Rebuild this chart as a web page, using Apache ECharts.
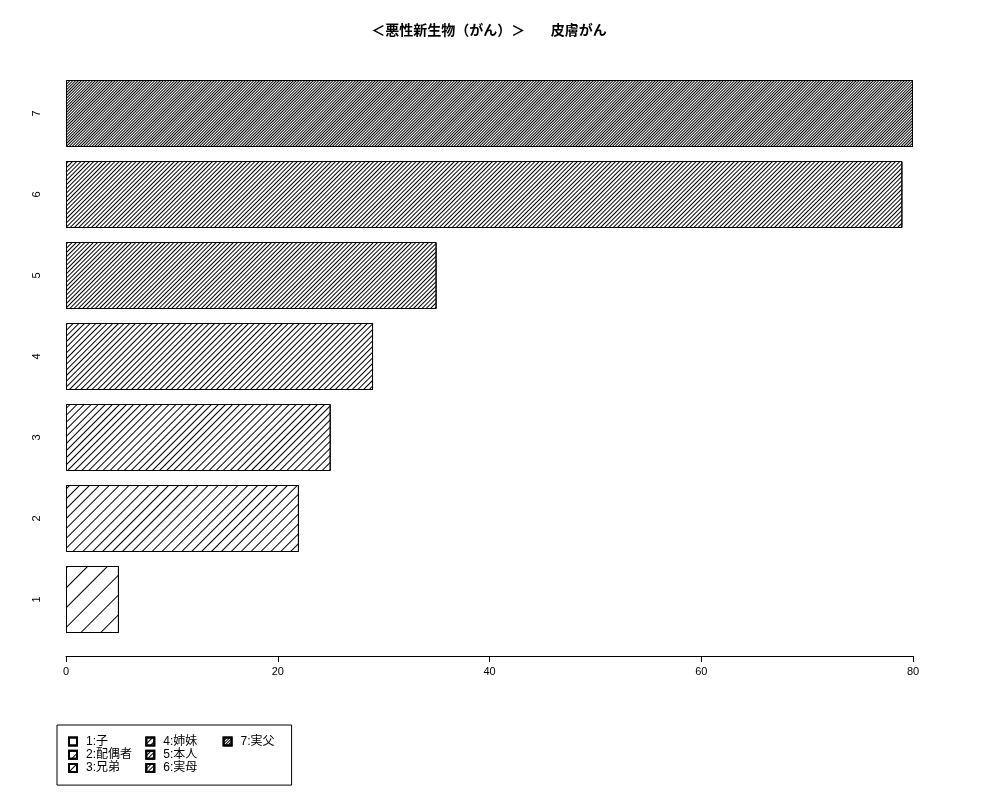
<!DOCTYPE html>
<html>
<head>
<meta charset="utf-8">
<script src="https://cdn.jsdelivr.net/npm/echarts@6/dist/echarts.min.js"></script>
<style>html,body{margin:0;padding:0;background:#fff}#c{width:1000px;height:800px}</style>
</head>
<body>
<div id="c"></div>
<script>
const categories = ['1', '2', '3', '4', '5', '6', '7'];
const seriesNames = ['1:子', '2:配偶者', '3:兄弟', '4:姉妹', '5:本人', '6:実母', '7:実父'];
const values = [5, 22, 25, 29, 35, 79, 80];
const xTicks = [0, 20, 40, 60, 80];
const titleText = '＜悪性新生物（がん）＞　   皮膚がん';

// hatch spacing (style only): perpendicular gap between hatch lines per bar
const hatchGap = [13, 6, 3.7, 2.5, 1.8, 1.4, 1.0];

const FONT = '"Liberation Sans", "Noto Sans CJK JP", sans-serif';

const series = seriesNames.map((name, i) => {
  const d = categories.map((c, j) => (j === i ? values[i] : '-'));
  return {
    name: name,
    type: 'bar',
    stack: 'all',
    barWidth: 67,
    data: d,
    itemStyle: {
      color: '#ffffff',
      borderColor: '#000000',
      borderWidth: 1,
      decal: {
        symbol: 'rect',
        symbolSize: 1,
        color: '#000000',
        backgroundColor: null,
        dashArrayX: [1, 0],
        dashArrayY: [1, hatchGap[i]],
        rotation: -Math.PI / 4
      }
    },
    emphasis: { disabled: true },
    animation: false
  };
});

const lastName = seriesNames[seriesNames.length - 1];

const chart = echarts.init(document.getElementById('c'), null, { renderer: 'canvas' });
chart.setOption({
  backgroundColor: '#ffffff',
  animation: false,
  title: {
    text: titleText,
    left: 484,
    textAlign: 'center',
    top: 19,
    textStyle: { fontFamily: FONT, fontSize: 14, fontWeight: 'bold', color: '#000' }
  },
  grid: { left: 66, right: 87, top: 73, bottom: 160, containLabel: false },
  xAxis: {
    type: 'value',
    min: xTicks[0],
    max: xTicks[xTicks.length - 1],
    interval: xTicks[1] - xTicks[0],
    offset: 16,
    splitLine: { show: false },
    axisLine: { show: true, lineStyle: { color: '#000', width: 1 } },
    axisTick: { show: true, length: 6, lineStyle: { color: '#000' } },
    axisLabel: { fontFamily: FONT, fontSize: 11, color: '#000', margin: 10 }
  },
  yAxis: {
    type: 'category',
    data: categories,
    axisLine: { show: false },
    axisTick: { show: false },
    axisLabel: { rotate: 90, fontFamily: FONT, fontSize: 11, color: '#000', margin: 24 }
  },
  legend: {
    orient: 'vertical',
    left: 57,
    top: 725,
    height: 43,
    padding: [10.5, 14, 11, 11],
    itemGap: 1.3,
    itemWidth: 8,
    itemHeight: 8,
    icon: 'rect',
    borderColor: '#000',
    borderWidth: 1,
    borderRadius: 0,
    selectedMode: false,
    formatter: function (n) { return (n === lastName ? '{b|' : '{a|') + n + '}'; },
    textStyle: {
      fontFamily: FONT, fontSize: 12, color: '#000', lineHeight: 9,
      rich: {
        a: { width: 58, padding: [0, 0, 0, 4], fontFamily: FONT, fontSize: 12, lineHeight: 9 },
        b: { width: 37, padding: [0, 0, 0, 4], fontFamily: FONT, fontSize: 12, lineHeight: 9 }
      }
    },
    data: seriesNames
  },
  series: series
});
</script>
</body>
</html>
